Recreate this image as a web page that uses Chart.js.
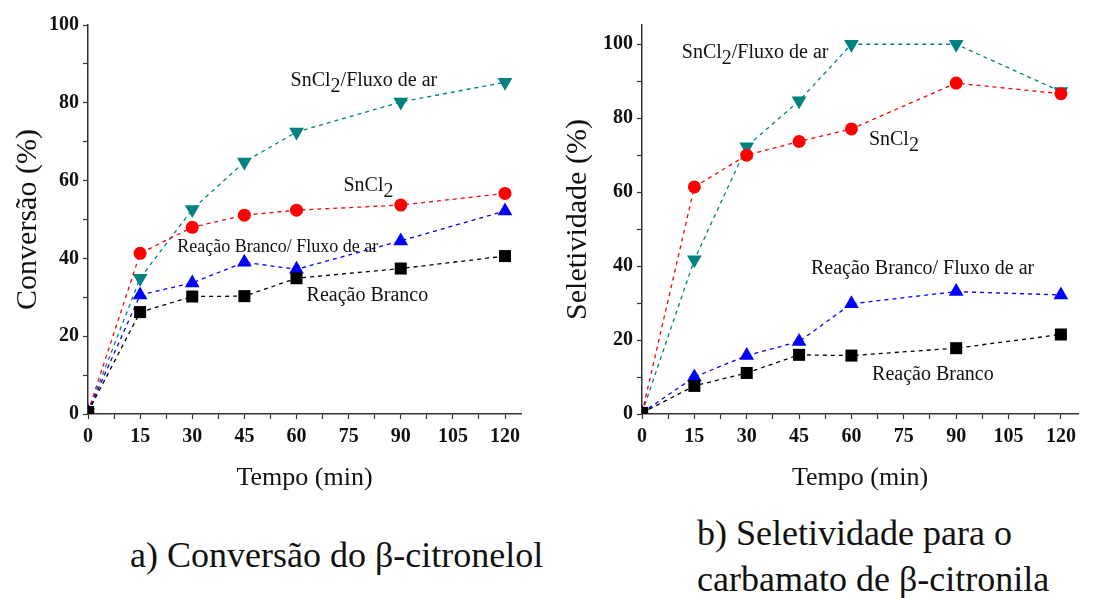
<!DOCTYPE html>
<html>
<head>
<meta charset="utf-8">
<script src="https://cdn.jsdelivr.net/npm/chart.js@4.4.1/dist/chart.umd.min.js"></script>
<style>
  body { margin: 0; background: #fff; }
  #wrap { position: relative; width: 1112px; height: 598px; overflow: hidden; font-family: 'Liberation Serif', serif; }
  .box { position: absolute; top: 0; width: 556px; height: 510px; }
  .cap { position: absolute; font-family: 'Liberation Serif', serif; font-size: 36px; color: #111; white-space: nowrap; }
</style>
</head>
<body>
<div id="wrap">
  <div class="box" style="left:0"><canvas id="convChart"></canvas></div>
  <div class="box" style="left:556px"><canvas id="selChart"></canvas></div>
  <div class="cap" style="left:130px; top:534px; line-height:42px;">a) Conversão do β-citronelol</div>
  <div class="cap" style="left:697px; top:510px; line-height:46px;">b) Seletividade para o<br>carbamato de β-citronila</div>
</div>
<script>
  // time points (min)
  const tempo = [0, 15, 30, 45, 60, 90, 120];
  const xTicks = [0, 7.5, 15, 22.5, 30, 37.5, 45, 52.5, 60, 67.5, 75, 82.5, 90, 97.5, 105, 112.5, 120];

  // a) Conversão (%)
  const convBranco = [0.5, 26.2, 30.2, 30.3, 34.9, 37.4, 40.6];
  const convBrancoAr = [0.5, 30.6, 33.7, 39.0, 37.2, 44.5, 52.2];
  const convSnCl2 = [0.5, 41.3, 48.0, 51.1, 52.4, 53.7, 56.7];
  const convSnCl2Ar = [0.5, 34.9, 52.6, 64.8, 72.5, 80.2, 85.3];

  // b) Seletividade (%)
  const selBranco = [0.3, 7.6, 11.1, 16.0, 15.8, 17.8, 21.5];
  const selBrancoAr = [0.3, 10.0, 15.8, 19.6, 29.8, 33.1, 32.2];
  const selSnCl2 = [0.3, 61.4, 70.0, 73.7, 77.1, 89.5, 86.6];
  const selSnCl2Ar = [0.3, 41.7, 72.3, 84.7, 100, 100, 87.2];

  const convYTicks = [0, 10, 20, 30, 40, 50, 60, 70, 80, 90, 100];
  const selYTicks = [0, 10, 20, 30, 40, 50, 60, 70, 80, 90, 100];

  // in-plot labels: [text, x, y, size]   (|2| = subscript)
  const convLabels = [
    ['SnCl|2|/Fluxo de ar', 58.3, 85.7, 20],
    ['SnCl|2|', 73.5, 58.8, 20],
    ['Reação Branco/ Fluxo de ar', 25.7, 42.9, 18],
    ['Reação Branco', 62.9, 30.3, 20]
  ];
  const selLabels = [
    ['SnCl|2|/Fluxo de ar', 11.4, 97.6, 20],
    ['SnCl|2|', 65.0, 74.1, 20],
    ['Reação Branco/ Fluxo de ar', 48.4, 39.3, 20],
    ['Reação Branco', 65.9, 10.6, 20]
  ];

  const serif = "'Liberation Serif', serif";

  function pts(ys) {
    return tempo.map((t, i) => ({ x: t, y: ys[i] }));
  }

  function series(ys, color, style, r, rot) {
    return {
      data: pts(ys),
      borderColor: color,
      backgroundColor: color,
      borderWidth: 1.3,
      borderDash: [4, 4],
      pointStyle: style,
      pointRadius: r,
      pointRotation: rot || 0,
      pointBorderWidth: 0,
      tension: 0
    };
  }

  const labelPlugin = {
    id: 'inLabels',
    afterDatasetsDraw(chart, args, opts) {
      const ctx = chart.ctx;
      const xs = chart.scales.x, ys = chart.scales.y;
      ctx.save();
      ctx.fillStyle = '#111';
      ctx.textBaseline = 'middle';
      ctx.textAlign = 'left';
      opts.items.forEach(([txt, xv, yv, size]) => {
        let px = xs.getPixelForValue(xv);
        const py = ys.getPixelForValue(yv);
        ctx.font = size + 'px ' + serif;
        txt.split('|').forEach((part, k) => {
          const sub = k % 2 === 1;
          ctx.fillText(part, px, sub ? py + 6 : py);
          px += ctx.measureText(part).width;
        });
      });
      ctx.restore();
    }
  };

  function makeChart(id, sets, yTicks, yMax, xMax, yTitle, yTitlePad, padRight, yWidth, labels) {
    const cv = document.getElementById(id);
    cv.width = 556;
    cv.height = 510;
    return new Chart(cv, {
      type: 'line',
      data: { datasets: sets },
      plugins: [labelPlugin],
      options: {
        responsive: false,
        animation: false,
        layout: { padding: { top: 25, right: padRight, bottom: 0, left: 0 } },
        plugins: {
          legend: { display: false },
          tooltip: { enabled: false },
          inLabels: { items: labels }
        },
        scales: {
          x: {
            type: 'linear',
            min: 0,
            max: xMax,
            afterBuildTicks: s => { s.ticks = xTicks.map(v => ({ value: v })); },
            afterFit: s => { s.height = 96; },
            border: { color: '#333', width: 1.5 },
            grid: { drawOnChartArea: false, drawTicks: true, tickLength: 5, color: '#333', tickWidth: 1.2 },
            ticks: {
              color: '#111',
              padding: 6,
              maxRotation: 0,
              autoSkip: false,
              font: { family: serif, size: 20, weight: 'bold' },
              callback: v => (v % 15 === 0 ? v : '')
            },
            title: {
              display: true,
              text: 'Tempo (min)',
              color: '#111',
              font: { family: serif, size: 26 },
              padding: { top: 0, bottom: 16 }
            }
          },
          y: {
            min: 0,
            max: yMax,
            afterBuildTicks: s => { s.ticks = yTicks.map(v => ({ value: v })); },
            afterFit: s => { s.width = yWidth; },
            border: { color: '#333', width: 1.5 },
            grid: { drawOnChartArea: false, drawTicks: true, tickLength: 5, color: '#333', tickWidth: 1.2 },
            ticks: {
              color: '#111',
              padding: 4,
              autoSkip: false,
              font: { family: serif, size: 20, weight: 'bold' },
              callback: v => (v % 20 === 0 ? v : '')
            },
            title: {
              display: true,
              text: yTitle,
              color: '#111',
              font: { family: serif, size: 30 },
              padding: { top: yTitlePad, bottom: 0 }
            }
          }
        }
      }
    });
  }

  makeChart('convChart', [
    series(convBranco, '#000000', 'rect', 8.5),
    series(convBrancoAr, '#0000ff', 'triangle', 8.5),
    series(convSnCl2, '#ff0000', 'circle', 6.5),
    series(convSnCl2Ar, '#008080', 'triangle', 8.5, 180)
  ], convYTicks, 100, 124.6, 'Conversão (%)', 10, 35, 88, convLabels);

  makeChart('selChart', [
    series(selBranco, '#000000', 'rect', 8.5),
    series(selBrancoAr, '#0000ff', 'triangle', 8.5),
    series(selSnCl2, '#ff0000', 'circle', 6.5),
    series(selSnCl2Ar, '#008080', 'triangle', 8.5, 180)
  ], selYTicks, 105.2, 124.9, 'Seletividade (%)', 4, 34, 86, selLabels);
</script>
</body>
</html>
